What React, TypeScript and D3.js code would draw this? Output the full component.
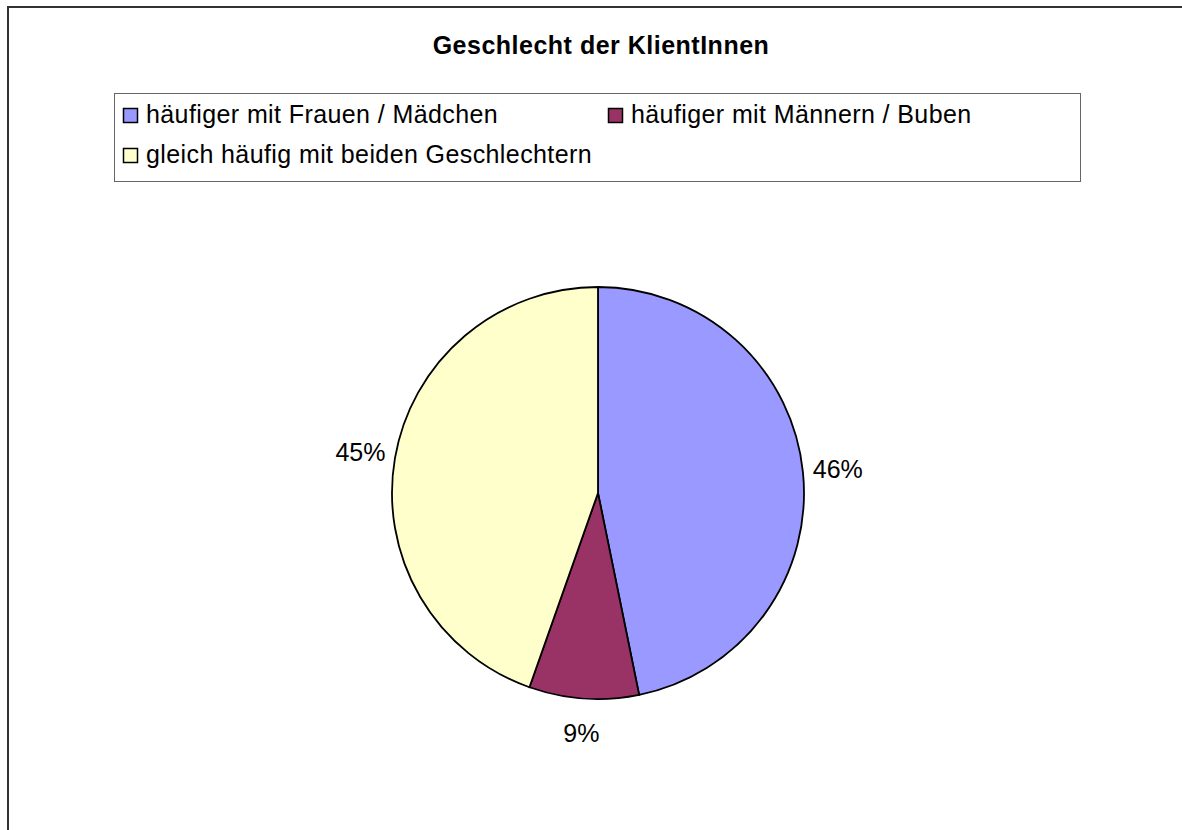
import React from "react";
import * as d3 from "d3";

const categories = [
  "häufiger mit Frauen / Mädchen",
  "häufiger mit Männern / Buben",
  "gleich häufig mit beiden Geschlechtern",
];
const values = [46.8, 8.6, 44.6];
const labels = ["46%", "9%", "45%"];
const colors = ["#9999ff", "#993366", "#ffffcc"];
const title = "Geschlecht der KlientInnen";

export default function App() {
  const W = 1182, H = 830;
  const cx = 598, cy = 493, r = 206;
  const pie = d3.pie<number>().sort(null).value((d) => d)(values);
  const arc = d3.arc<d3.PieArcDatum<number>>().innerRadius(0).outerRadius(r);
  const labelArc = d3.arc<d3.PieArcDatum<number>>().innerRadius(r + 35).outerRadius(r + 35);
  const font = "Liberation Sans, Arial, sans-serif";
  const legendPos = [
    { x: 123, y: 123 },
    { x: 608, y: 123 },
    { x: 123, y: 163 },
  ];
  return (
    <svg width={W} height={H} style={{ position: "absolute", left: 0, top: 0 }} fontFamily={font}>
      <rect x={0} y={0} width={W} height={H} fill="#fff" />
      <rect x={8} y={7} width={1200} height={900} fill="none" stroke="#333" strokeWidth={2} />
      <text x={601} y={54} textAnchor="middle" fontWeight="bold" fontSize={25} letterSpacing={0.5}>{title}</text>
      <rect x={114.5} y={93.5} width={966} height={88} fill="#fff" stroke="#666" strokeWidth={1} />
      {categories.map((c, i) => (
        <g key={c}>
          <rect x={legendPos[i].x + 0.5} y={legendPos[i].y - 14.5} width={14} height={14} fill={colors[i]} stroke="#000" strokeWidth={1.5} />
          <text x={legendPos[i].x + 23} y={legendPos[i].y} fontSize={25} letterSpacing={0.4}>{c}</text>
        </g>
      ))}
      <g transform={`translate(${cx},${cy})`}>
        {pie.map((p, i) => (
          <path key={i} d={arc(p) || ""} fill={colors[i]} stroke="#000" strokeWidth={1.8} />
        ))}
        {pie.map((p, i) => {
          const [lx, ly] = labelArc.centroid(p);
          return (
            <text key={"l" + i} x={lx} y={ly + 9} textAnchor="middle" fontSize={25}>{labels[i]}</text>
          );
        })}
      </g>
    </svg>
  );
}
